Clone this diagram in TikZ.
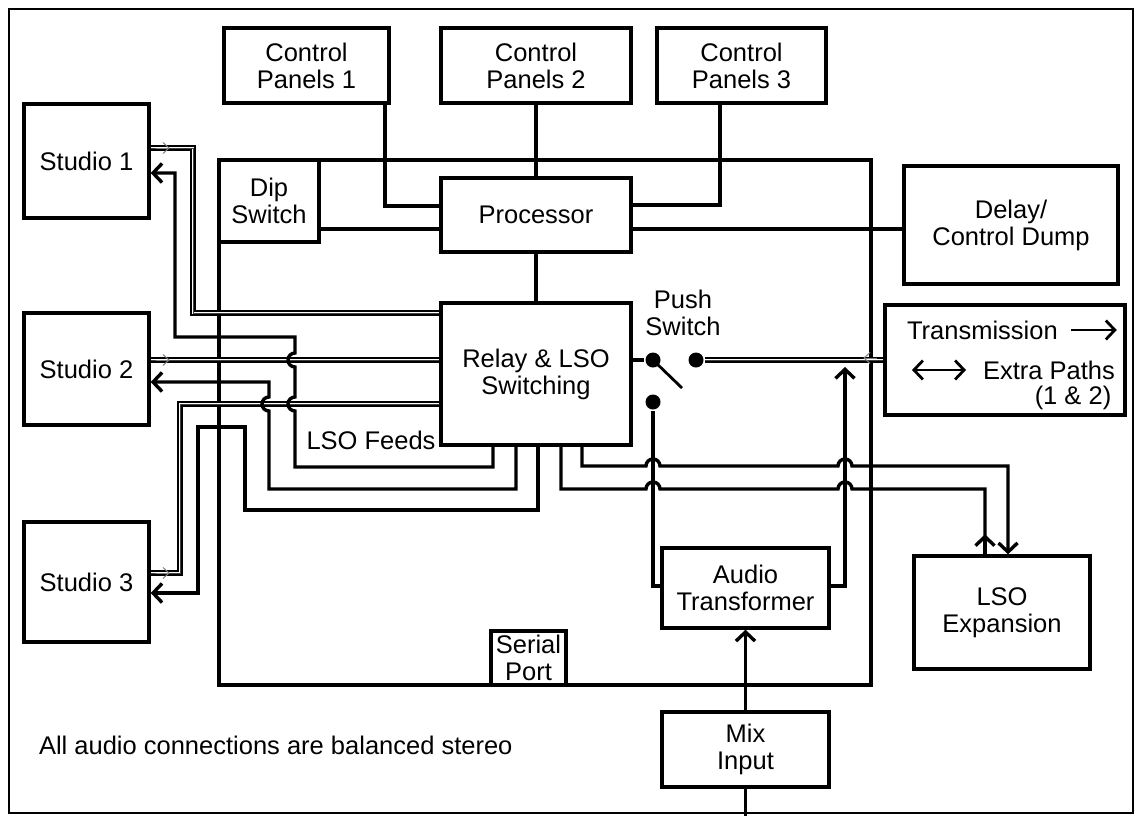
\documentclass[tikz,border=0pt]{standalone}
\usepackage{fontspec}
\setmainfont{Liberation Sans}
\usetikzlibrary{arrows.meta}
\begin{document}
\begin{tikzpicture}[
        x=1pt, y=-1pt,
        line width=3.4pt,
        every node/.style={font=\fontsize{25.5}{27}\selectfont},
        box/.style={draw, align=center, inner sep=0pt},
        arrow/.style={-{Straight Barb[length=9pt,width=19pt]}},
        twoway/.style={{Straight Barb[length=9pt,width=19pt]}-{Straight Barb[length=9pt,width=19pt]}},
        stereo/.style={draw=white, line width=2.4pt,
            preaction={draw=black, line width=6.8pt},
            postaction={draw=black!75, line width=1pt}},
        tip/.style={gray, line width=1pt, -{Straight Barb[length=6pt,width=11pt]}},
        dot/.style={circle, fill=black, inner sep=0pt, minimum size=15pt}]
        \useasboundingbox (0,0) rectangle (1140,815);
        \draw[line width=2pt] (9,9) rectangle (1133,813);

        \node[box, minimum width=652, minimum height=525] (Main) at (545,422.5) {};
        \node[box, minimum width=165, minimum height=75] (CP1) at (306.5,65.5) {Control\\Panels 1};
        \node[box, minimum width=190, minimum height=75] (CP2) at (536,65.5) {Control\\Panels 2};
        \node[box, minimum width=169, minimum height=75] (CP3) at (741.5,65.5) {Control\\Panels 3};
        \node[box, minimum width=100, minimum height=82] (Dip) at (269,201) {Dip\\Switch};
        \node[box, minimum width=190, minimum height=74] (Proc) at (536,215) {Processor};
        \node[box, minimum width=214, minimum height=118] (Delay) at (1011,225) {Delay/\\Control Dump};
        \node[box, minimum width=125, minimum height=114] (S1) at (86.5,161) {Studio 1};
        \node[box, minimum width=125, minimum height=112] (S2) at (86.5,369) {Studio 2};
        \node[box, minimum width=125, minimum height=120] (S3) at (86.5,582) {Studio 3};
        \node[box, minimum width=190, minimum height=142] (Relay) at (536,374) {Relay \& LSO\\Switching};
        \node[box, minimum width=240, minimum height=110] (Trans) at (1005,360) {};
        \node[box, minimum width=167, minimum height=80] (AT) at (745.5,588) {Audio\\Transformer};
        \node[box, minimum width=176, minimum height=113] (LSO) at (1002,612.5) {LSO\\Expansion};
        \node[box, minimum width=75, minimum height=54] (Serial) at (528.5,658) {Serial\\Port};
        \node[box, minimum width=167, minimum height=75] (Mix) at (745.5,749.5) {Mix\\Input};

        \node[anchor=west] (TrT) at ([xshift=-103pt,yshift=30pt]Trans) {Transmission};
        \node[anchor=west] (TrE) at ([xshift=-27pt,yshift=-10pt]Trans) {Extra Paths};
        \node (TrN) at ([xshift=68pt,yshift=-38pt]Trans) {(1 \& 2)};
        \node (Feeds) at (371,440) {LSO Feeds};
        \node[align=center] (Push) at (683,313) {Push\\Switch};
        \node[anchor=west] (Note) at (34,745) {All audio connections are balanced stereo};

        \node[dot] (dotL) at (653,360) {};
        \node[dot] (dotR) at (696,360) {};
        \node[dot] (dotB) at (653,402) {};
        \coordinate (lever) at (682,388);

        % control paths
        \draw ([xshift=78.5pt]CP1.south) |- ([yshift=9pt]Proc.west);
        \draw (CP2.south) -- (Proc.north);
        \draw ([xshift=-21.5pt]CP3.south) |- ([yshift=10pt]Proc.east);
        \draw ([yshift=-28pt]Dip.east) -- ([yshift=-14pt]Proc.west);
        \draw ([yshift=-14pt]Proc.east) coordinate (p) -- (p -| Delay.west);
        \draw (Proc.south) -- (Relay.north);

        % stereo feeds
        \draw[stereo] ([yshift=13pt]S1.east) -| (193,313) -- ([yshift=61pt]Relay.west);
        \draw[stereo] ([yshift=9pt]S2.east) -- ([yshift=14pt]Relay.west);
        \draw[stereo] ([yshift=-30pt]Relay.west) -| (180,573) -- ([yshift=9pt]S3.east);
        \draw[stereo] (dotR) -- (dotR -| Trans.west);
        \draw[tip] ([xshift=5pt,yshift=13pt]S1.east) -- ++(14,0);
        \draw[tip] ([xshift=5pt,yshift=9pt]S2.east) -- ++(14,0);
        \draw[tip] ([xshift=5pt,yshift=9pt]S3.east) -- ++(14,0);
        \draw[tip] ([xshift=-6pt,yshift=2pt]Trans.west) -- ++(-14,0);

        % returns
        \draw[arrow] ([xshift=-43pt]Relay.south) |- (295,467) -- (295,411)
            arc[start angle=90,end angle=270,radius=7] -- (295,367)
            arc[start angle=90,end angle=270,radius=7] -- (295,337)
            -| (175,173) -- ([yshift=-12pt]S1.east);
        \draw[arrow] ([xshift=-20pt]Relay.south) |- (269,489) -- (269,411)
            arc[start angle=90,end angle=270,radius=7] -- (269,382)
            -- ([yshift=-13pt]S2.east);
        \draw[arrow] ([xshift=2pt]Relay.south) |- (245,510) -- (245,427)
            -| (198,593) -- ([yshift=-11pt]S3.east);

        % switch
        \draw ([yshift=14pt]Relay.east) -- (dotL);
        \draw[line width=2.8pt] (dotL.center) -- (lever);
        \draw (dotB) |- ([yshift=2pt]AT.west);
        \draw[arrow] ([yshift=2pt]AT.east) -| (845,367);

        % LSO expansion
        \draw[arrow] ([xshift=46pt]Relay.south) |- (646,466)
            arc[start angle=180,end angle=360,radius=7] -- (838,466)
            arc[start angle=180,end angle=360,radius=7] -| ([xshift=6pt]LSO.north);
        \draw ([xshift=25pt]Relay.south) |- (646,489)
            arc[start angle=180,end angle=360,radius=7] -- (838,489)
            arc[start angle=180,end angle=360,radius=7] -| ([xshift=-17pt]LSO.north);
        \draw[arrow] ([xshift=-17pt]LSO.north) -- ++(0,-20);

        % mix input
        \draw[arrow] (Mix.north) -- (AT.south);
        \draw (Mix.south) -- ++(0,30);

        % transmission legend
        \draw[arrow, line width=2.8pt] ([xshift=8pt]TrT.east) -- ++(46,0);
        \draw[twoway, line width=2.8pt] ([xshift=-12pt]TrE.west) -- ++(-54,0);
\end{tikzpicture}
\end{document}
